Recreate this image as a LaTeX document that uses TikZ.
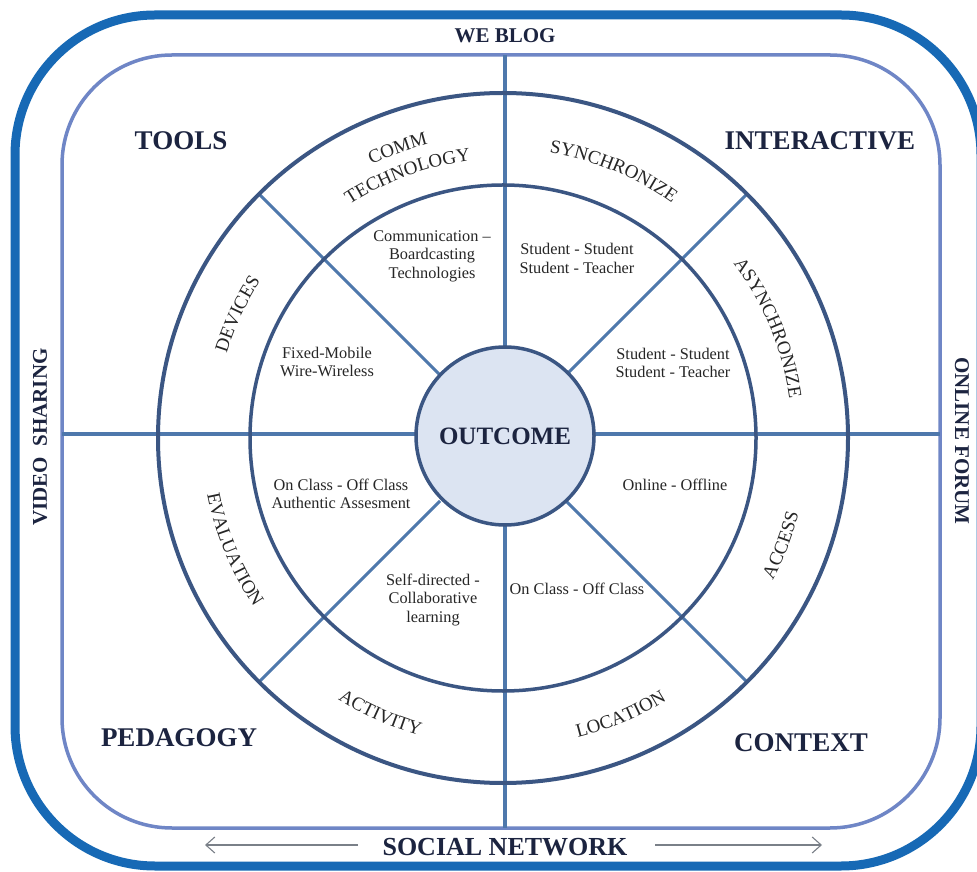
\documentclass[tikz,border=0pt]{standalone}
\usepackage{fontspec}
\setmainfont{Liberation Serif}
\usetikzlibrary{decorations.text,arrows.meta,calc}
\definecolor{outerblue}{HTML}{1769B5}
\definecolor{innerblue}{HTML}{6F86C6}
\definecolor{ringcol}{HTML}{3B5683}
\definecolor{spokecol}{HTML}{4E78AC}
\definecolor{navy}{HTML}{1C2440}
\definecolor{fillc}{HTML}{DCE4F2}
\definecolor{txt}{HTML}{262626}
\definecolor{arrowgray}{HTML}{7A8088}
\newcommand\ringfont{\fontsize{19}{21}\selectfont\color{txt}}
\begin{document}
\begin{tikzpicture}[x=1pt,y=1pt,
  big/.style={font=\fontsize{27}{30}\selectfont\bfseries, text=navy, inner sep=0pt},
  side/.style={font=\fontsize{21}{24}\selectfont\bfseries, text=navy, inner sep=0pt},
  small/.style={font=\fontsize{16.3}{18.5}\selectfont, text=txt, align=center, inner sep=0pt},
  spoke/.style={draw=spokecol, line width=3pt},
  axis/.style={draw=spokecol, line width=3.5pt},
  ringline/.style={draw=ringcol, line width=3.5pt},
  arr/.style={draw=arrowgray, line width=1.1pt, -{Straight Barb[length=9pt,width=16pt]}},
  ringtext/.style={decorate, decoration={text along path, text align=center, text={|\ringfont|#1}}}
  ]
\useasboundingbox (0,0) rectangle (977,871);
\fill[white] (0,0) rectangle (977,871);
% frames
\draw[outerblue, line width=9pt, rounded corners=140pt] (15,5) rectangle (981,856);
\draw[innerblue, line width=3.5pt, rounded corners=110pt] (62,43) rectangle (940,816);
% centre and axes
\coordinate (C) at (503,433);
\coordinate (vt) at (505,816);
\coordinate (vb) at (505,43);
\coordinate (hl) at (62,437);
\coordinate (hr) at (940,437);
\draw[axis] (vt) -- (vb);
\draw[axis] (hl) -- (hr);
\foreach \a in {45,135,225,315}
  \draw[spoke] ($(C)+(\a:89)$) -- ($(C)+(\a:345)$);
% rings
\draw[ringline, line width=4pt] (C) circle[radius=345];
\draw[ringline] (C) circle[radius=253];
\node[circle, draw=ringcol, line width=3.5pt, fill=fillc, minimum size=178pt, inner sep=0pt,
      font=\fontsize{25}{28}\selectfont\bfseries, text=navy] (outcome) at (505,435) {OUTCOME};
% ring labels
\path[ringtext={COMM}] ($(C)+(132.5:303)$) arc[start angle=132.5, end angle=87.5, radius=303];
\path[ringtext={TECHNOLOGY}] ($(C)+(132.5:279)$) arc[start angle=132.5, end angle=87.5, radius=279];
\path[ringtext={SYNCHRONIZE}] ($(C)+(90:289)$) arc[start angle=90, end angle=45, radius=289];
\path[ringtext={ASYNCHRONIZE}] ($(C)+(45:289)$) arc[start angle=45, end angle=0, radius=289];
\path[ringtext={DEVICES}] ($(C)+(177.5:289)$) arc[start angle=177.5, end angle=132.5, radius=289];
\path[ringtext={ACCESS}] ($(C)+(-43.5:305)$) arc[start angle=-43.5, end angle=1.5, radius=305];
\path[ringtext={LOCATION}] ($(C)+(-89.5:309)$) arc[start angle=-89.5, end angle=-44.5, radius=309];
\path[ringtext={ACTIVITY}] ($(C)+(223.5:309)$) arc[start angle=223.5, end angle=268.5, radius=309];
\path[ringtext={EVALUATION}] ($(C)+(180:301)$) arc[start angle=180, end angle=225, radius=301];
% inner sector texts
\node[small] (comm) at (432,615) {Communication –\\Boardcasting\\Technologies};
\node[small] (ss1) at (577,612.5) {Student - Student\\Student - Teacher};
\node[small] (fixed) at (327,509) {Fixed-Mobile\\Wire-Wireless};
\node[small] (ss2) at (673,508) {Student - Student\\Student - Teacher};
\node[small] (onoff1) at (341,377) {On Class - Off Class\\Authentic Assesment};
\node[small] (online) at (675,386) {Online - Offline};
\node[small] (self) at (433,271) {Self-directed -\\Collaborative\\learning};
\node[small] (onoff2) at (577,282) {On Class - Off Class};
% quadrant labels
\node[big] (tools) at (181,730) {TOOLS};
\node[big] (inter) at (820,730) {INTERACTIVE};
\node[big] (peda) at (179,133) {PEDAGOGY};
\node[big] (context) at (801,128) {CONTEXT};
% side labels
\node[side] (weblog) at (505,835) {WE BLOG};
\node[big, font=\fontsize{26}{28}\selectfont\bfseries] (social) at (505,24) {SOCIAL NETWORK};
\node[side, rotate=90] (video) at (40,434) {VIDEO\ \ SHARING};
\node[side, rotate=-90] (forum) at (962,430) {ONLINE FORUM};
% arrows
\coordinate (la) at (358,26);
\coordinate (lb) at (205,26);
\coordinate (ra) at (655,26);
\coordinate (rb) at (822,26);
\draw[arr] (la) -- (lb);
\draw[arr] (ra) -- (rb);
\end{tikzpicture}
\end{document}
